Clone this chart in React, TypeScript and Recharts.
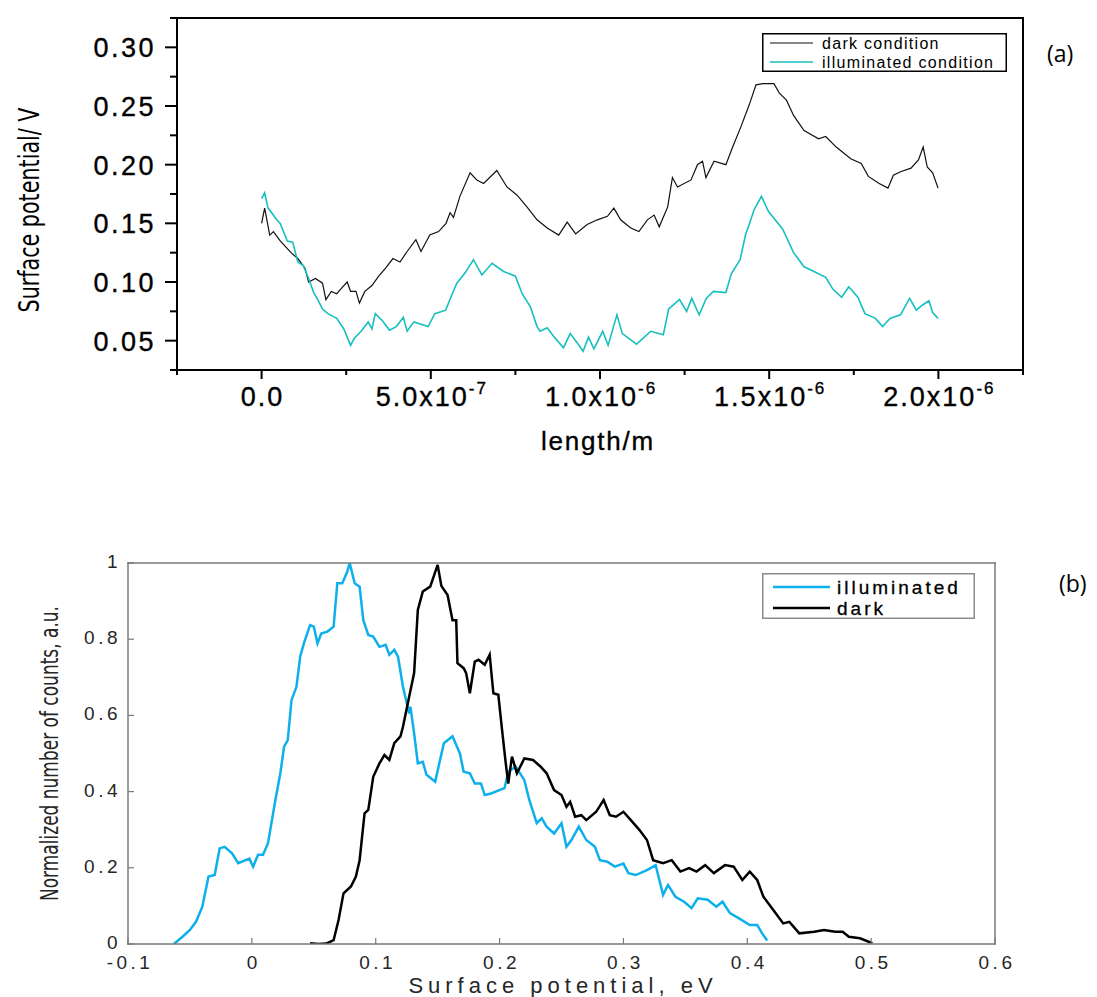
import React from "react";
import { Legend, Line, LineChart, XAxis, YAxis } from "recharts";

// ---- (a) surface potential line profile, x in µm ----
const darkAX = [
  0, 0.009, 0.024, 0.035, 0.055, 0.087, 0.107, 0.128, 0.139, 0.159, 0.18, 0.19, 0.206, 0.222, 0.237,
  0.253, 0.263, 0.279, 0.289, 0.305, 0.326, 0.346, 0.367, 0.388, 0.409, 0.43, 0.456, 0.471, 0.497,
  0.523, 0.545, 0.557, 0.567, 0.586, 0.616, 0.636, 0.656, 0.695, 0.725, 0.755, 0.784, 0.814, 0.844,
  0.878, 0.903, 0.928, 0.962, 0.992, 1.022, 1.041, 1.061, 1.091, 1.115, 1.14, 1.16, 1.175, 1.2,
  1.214, 1.229, 1.269, 1.288, 1.303, 1.313, 1.337, 1.372, 1.392, 1.416, 1.441, 1.461, 1.482, 1.514,
  1.53, 1.551, 1.572, 1.603, 1.646, 1.667, 1.698, 1.741, 1.772, 1.793, 1.825, 1.851, 1.867, 1.888,
  1.919, 1.941, 1.955, 1.967, 1.983, 1.999,
];
const darkAY = [
  0.15, 0.163, 0.14, 0.143, 0.135, 0.125, 0.12, 0.112, 0.1, 0.103, 0.099, 0.085, 0.092, 0.09, 0.095,
  0.1, 0.092, 0.092, 0.082, 0.092, 0.097, 0.105, 0.112, 0.12, 0.117, 0.126, 0.136, 0.126, 0.14,
  0.143, 0.15, 0.159, 0.155, 0.173, 0.193, 0.187, 0.184, 0.195, 0.181, 0.174, 0.164, 0.153, 0.146,
  0.14, 0.151, 0.141, 0.149, 0.153, 0.156, 0.163, 0.153, 0.146, 0.143, 0.153, 0.157, 0.147, 0.164,
  0.189, 0.181, 0.187, 0.2, 0.203, 0.189, 0.203, 0.2, 0.215, 0.232, 0.251, 0.268, 0.269, 0.269,
  0.261, 0.255, 0.242, 0.229, 0.222, 0.224, 0.215, 0.205, 0.201, 0.19, 0.184, 0.18, 0.191, 0.194,
  0.197, 0.204, 0.215, 0.198, 0.193, 0.18,
];
const illumAX = [
  0, 0.009, 0.019, 0.045, 0.055, 0.076, 0.092, 0.107, 0.123, 0.139, 0.154, 0.164, 0.18, 0.196, 0.222,
  0.243, 0.263, 0.274, 0.294, 0.315, 0.326, 0.336, 0.357, 0.378, 0.398, 0.419, 0.43, 0.45, 0.492,
  0.512, 0.544, 0.565, 0.577, 0.602, 0.626, 0.651, 0.681, 0.715, 0.75, 0.77, 0.794, 0.814, 0.823,
  0.844, 0.865, 0.892, 0.912, 0.933, 0.95, 0.966, 0.982, 1.008, 1.024, 1.05, 1.066, 1.108, 1.15,
  1.187, 1.203, 1.235, 1.256, 1.271, 1.293, 1.314, 1.335, 1.372, 1.388, 1.414, 1.43, 1.456, 1.477,
  1.498, 1.54, 1.572, 1.603, 1.625, 1.667, 1.688, 1.714, 1.735, 1.762, 1.783, 1.814, 1.835, 1.857,
  1.888, 1.915, 1.935, 1.951, 1.972, 1.983, 1.999,
];
const illumAY = [
  0.171, 0.176, 0.163, 0.153, 0.15, 0.135, 0.134, 0.117, 0.114, 0.103, 0.091, 0.086, 0.077, 0.073,
  0.069, 0.06, 0.046, 0.052, 0.058, 0.066, 0.06, 0.073, 0.067, 0.059, 0.062, 0.07, 0.058, 0.066,
  0.062, 0.073, 0.076, 0.091, 0.099, 0.108, 0.119, 0.106, 0.116, 0.109, 0.105, 0.09, 0.079, 0.062,
  0.058, 0.061, 0.053, 0.044, 0.056, 0.048, 0.041, 0.053, 0.043, 0.058, 0.046, 0.072, 0.056, 0.047,
  0.058, 0.055, 0.077, 0.085, 0.075, 0.086, 0.072, 0.086, 0.092, 0.091, 0.107, 0.119, 0.14, 0.162,
  0.173, 0.16, 0.145, 0.125, 0.113, 0.11, 0.104, 0.094, 0.087, 0.096, 0.087, 0.073, 0.069, 0.062,
  0.069, 0.072, 0.086, 0.076, 0.08, 0.084, 0.074, 0.069,
];

// ---- (b) normalized histograms of surface potential ----
const illumBX = [
  -0.063, -0.056, -0.05, -0.045, -0.04, -0.035, -0.03, -0.026, -0.022, -0.016, -0.011, -0.005,
  -0.002, 0.001, 0.005, 0.009, 0.013, 0.019, 0.023, 0.026, 0.029, 0.032, 0.036, 0.039, 0.042, 0.047,
  0.05, 0.053, 0.056, 0.061, 0.066, 0.069, 0.073, 0.077, 0.079, 0.083, 0.087, 0.09, 0.094, 0.098,
  0.103, 0.108, 0.111, 0.115, 0.118, 0.122, 0.127, 0.128, 0.131, 0.134, 0.138, 0.141, 0.148, 0.155,
  0.162, 0.168, 0.171, 0.176, 0.18, 0.185, 0.188, 0.193, 0.204, 0.207, 0.213, 0.22, 0.224, 0.23,
  0.234, 0.238, 0.244, 0.25, 0.254, 0.258, 0.264, 0.27, 0.277, 0.281, 0.287, 0.293, 0.3, 0.304, 0.31,
  0.319, 0.326, 0.329, 0.332, 0.336, 0.342, 0.349, 0.355, 0.36, 0.368, 0.375, 0.38, 0.386, 0.393,
  0.402, 0.408, 0.412, 0.416,
];
const illumBY = [
  0, 0.019, 0.037, 0.059, 0.098, 0.177, 0.181, 0.251, 0.255, 0.238, 0.212, 0.22, 0.224, 0.203, 0.234,
  0.234, 0.264, 0.378, 0.448, 0.518, 0.535, 0.64, 0.675, 0.754, 0.789, 0.837, 0.833, 0.789, 0.815,
  0.82, 0.833, 0.947, 0.947, 0.977, 1.0, 0.947, 0.938, 0.85, 0.811, 0.807, 0.78, 0.785, 0.759, 0.772,
  0.754, 0.675, 0.605, 0.623, 0.553, 0.474, 0.478, 0.444, 0.426, 0.527, 0.545, 0.5, 0.452, 0.448,
  0.421, 0.421, 0.391, 0.395, 0.409, 0.452, 0.466, 0.43, 0.378, 0.317, 0.33, 0.308, 0.29, 0.317,
  0.255, 0.273, 0.308, 0.273, 0.255, 0.22, 0.216, 0.203, 0.211, 0.186, 0.181, 0.194, 0.207, 0.168,
  0.129, 0.155, 0.124, 0.111, 0.094, 0.12, 0.116, 0.098, 0.111, 0.081, 0.068, 0.05, 0.05, 0.028,
  0.009,
];
const darkBX = [
  0.047, 0.054, 0.06, 0.066, 0.07, 0.074, 0.08, 0.084, 0.087, 0.091, 0.094, 0.098, 0.103, 0.107,
  0.111, 0.115, 0.12, 0.122, 0.127, 0.131, 0.134, 0.138, 0.144, 0.15, 0.153, 0.158, 0.162, 0.165,
  0.166, 0.171, 0.173, 0.176, 0.18, 0.183, 0.188, 0.192, 0.195, 0.199, 0.202, 0.205, 0.207, 0.21,
  0.214, 0.22, 0.227, 0.233, 0.238, 0.244, 0.25, 0.254, 0.257, 0.261, 0.266, 0.27, 0.278, 0.284,
  0.289, 0.294, 0.3, 0.306, 0.313, 0.319, 0.324, 0.332, 0.339, 0.346, 0.353, 0.359, 0.366, 0.373,
  0.382, 0.389, 0.396, 0.402, 0.408, 0.413, 0.421, 0.429, 0.434, 0.442, 0.454, 0.462, 0.471, 0.477,
  0.482, 0.491, 0.501,
];
const darkBY = [
  0.002, 0, 0.001, 0.01, 0.063, 0.133, 0.151, 0.177, 0.22, 0.343, 0.352, 0.439, 0.474, 0.496, 0.483,
  0.527, 0.545, 0.57, 0.649, 0.711, 0.877, 0.925, 0.938, 0.995, 0.94, 0.916, 0.85, 0.85, 0.737,
  0.724, 0.711, 0.658, 0.741, 0.746, 0.733, 0.759, 0.658, 0.654, 0.562, 0.474, 0.421, 0.492, 0.448,
  0.487, 0.483, 0.466, 0.448, 0.404, 0.391, 0.36, 0.373, 0.334, 0.338, 0.325, 0.347, 0.378, 0.338,
  0.334, 0.347, 0.325, 0.299, 0.273, 0.22, 0.212, 0.22, 0.19, 0.199, 0.19, 0.207, 0.186, 0.207,
  0.203, 0.168, 0.19, 0.168, 0.124, 0.089, 0.054, 0.058, 0.028, 0.032, 0.037, 0.032, 0.032, 0.019,
  0.015, 0.002,
];

// ---- ticks and labels ----
const xTicksA = [-0.25, 0, 0.25, 0.5, 0.75, 1, 1.25, 1.5, 1.75, 2, 2.25];
const xMajorA = [0, 0.5, 1, 1.5, 2];
const xLabelA = ["0.0", "5.0x10", "1.0x10", "1.5x10", "2.0x10"];
const xExpA = ["", "-7", "-6", "-6", "-6"];
const yTicksA = [0.025, 0.05, 0.075, 0.1, 0.125, 0.15, 0.175, 0.2, 0.225, 0.25, 0.275, 0.3, 0.325];
const yMajorA = [0.05, 0.1, 0.15, 0.2, 0.25, 0.3];
const yLabelA = ["0.05", "0.10", "0.15", "0.20", "0.25", "0.30"];
const legendOrderA = ["dark condition", "illuminated condition"];

const xTicksB = [-0.1, 0, 0.1, 0.2, 0.3, 0.4, 0.5, 0.6];
const xLabelB = ["-0.1", "0", "0.1", "0.2", "0.3", "0.4", "0.5", "0.6"];
const yTicksB = [0, 0.2, 0.4, 0.6, 0.8, 1];
const yLabelB = ["0", "0.2", "0.4", "0.6", "0.8", "1"];
const legendOrderB = ["illuminated", "dark"];

const zip = (xs: number[], ys: number[]) => xs.map((x, i) => ({ x, y: ys[i] }));
const at = (list: number[], v: number) => list.findIndex((m) => Math.abs(m - v) < 1e-9);
const ordered = (items: any[], order: string[]) =>
  [...items].sort((a, b) => order.indexOf(a.value) - order.indexOf(b.value));

const SANS = "'Liberation Sans', Arial, Helvetica, sans-serif";
const NARROW = "'Liberation Sans Narrow', 'Arial Narrow', 'DejaVu Sans Condensed', sans-serif";
const CYAN = "#17bfbf";
const BLUE = "#0db0ec";
const FRAME_B = "#7a7a7a";

// ---------- panel (a) ticks ----------
function BottomTickA(props: any) {
  const { x, y, payload } = props;
  const i = at(xMajorA, payload.value);
  return (
    <g>
      <line x1={x} x2={x} y1={y} y2={y + (i >= 0 ? 9 : 5)} stroke="#000" strokeWidth={2} />
      {i >= 0 && (
        <text
          x={x + 1}
          y={y + 36}
          textAnchor="middle"
          fontFamily={SANS}
          fontSize={27}
          letterSpacing={2}
          fill="#000"
          stroke="#000"
          strokeWidth={0.35}
        >
          {xLabelA[i]}
          {xExpA[i] ? (
            <tspan dy={-12} fontSize={17}>
              {xExpA[i]}
            </tspan>
          ) : null}
        </text>
      )}
    </g>
  );
}

function TopTickA(props: any) {
  const { x, y, payload } = props;
  const major = at(xMajorA, payload.value) >= 0;
  return <line x1={x} x2={x} y1={y} y2={y + (major ? 8 : 4)} stroke="#000" strokeWidth={2} />;
}

function LeftTickA(props: any) {
  const { x, y, payload } = props;
  const i = at(yMajorA, payload.value);
  return (
    <g>
      <line x1={x - (i >= 0 ? 12 : 7)} x2={x} y1={y} y2={y} stroke="#000" strokeWidth={2} />
      {i >= 0 && (
        <text
          x={x - 21}
          y={y + 10}
          textAnchor="end"
          fontFamily={SANS}
          fontSize={27}
          letterSpacing={2.5}
          fill="#000"
          stroke="#000"
          strokeWidth={0.35}
        >
          {yLabelA[i]}
        </text>
      )}
    </g>
  );
}

function RightTickA(props: any) {
  const { x, y } = props;
  return <line x1={x - 12} x2={x} y1={y} y2={y} stroke="#000" strokeWidth={2} />;
}

// ---------- panel (b) ticks ----------
function BottomTickB(props: any) {
  const { x, y, payload } = props;
  const i = at(xTicksB, payload.value);
  return (
    <g>
      <line x1={x} x2={x} y1={y} y2={y - 6} stroke={FRAME_B} strokeWidth={1.2} />
      <text x={x + 2} y={y + 25} textAnchor="middle" fontFamily={SANS} fontSize={19} letterSpacing={3.5} fill="#262626">
        {xLabelB[i]}
      </text>
    </g>
  );
}

function TopTickB(props: any) {
  const { x, y } = props;
  return <line x1={x} x2={x} y1={y} y2={y + 6} stroke={FRAME_B} strokeWidth={1.2} />;
}

function LeftTickB(props: any) {
  const { x, y, payload } = props;
  const i = at(yTicksB, payload.value);
  return (
    <g>
      <line x1={x} x2={x + 6} y1={y} y2={y} stroke={FRAME_B} strokeWidth={1.2} />
      <text x={x - 7} y={y + 5} textAnchor="end" fontFamily={SANS} fontSize={19} letterSpacing={3.5} fill="#262626">
        {yLabelB[i]}
      </text>
    </g>
  );
}

function RightTickB(props: any) {
  const { x, y } = props;
  return <line x1={x - 6} x2={x} y1={y} y2={y} stroke={FRAME_B} strokeWidth={1.2} />;
}

// ---------- legends ----------
const widthsA: Record<string, number> = { "dark condition": 1.2, "illuminated condition": 1.6 };

function LegendA(props: any) {
  const items = ordered(props.payload || [], legendOrderA);
  return (
    <svg width={245} height={39} style={{ display: "block" }}>
      <rect x={0.75} y={0.75} width={243.5} height={37.5} fill="#fff" stroke="#000" strokeWidth={1.5} />
      {items.map((it: any, i: number) => (
        <g key={it.value}>
          <line x1={8} x2={51} y1={10 + i * 19} y2={10 + i * 19} stroke={it.color} strokeWidth={widthsA[it.value] || 1.2} />
          <text x={60} y={15.5 + i * 19} fontFamily={SANS} fontSize={16} letterSpacing={1.3} fill="#000">
            {it.value}
          </text>
        </g>
      ))}
    </svg>
  );
}

function LegendB(props: any) {
  const items = ordered(props.payload || [], legendOrderB);
  return (
    <svg width={213} height={46} style={{ display: "block" }}>
      <rect x={0.75} y={0.75} width={211.5} height={44.5} fill="#fff" stroke="#8a8a8a" strokeWidth={1.5} />
      {items.map((it: any, i: number) => (
        <g key={it.value}>
          <line x1={11} x2={68} y1={14 + i * 21} y2={14 + i * 21} stroke={it.color} strokeWidth={2.5} />
          <text
            x={75}
            y={20.5 + i * 21}
            fontFamily={SANS}
            fontSize={19}
            letterSpacing={3}
            fill="#000"
            stroke="#000"
            strokeWidth={0.3}
          >
            {it.value}
          </text>
        </g>
      ))}
    </svg>
  );
}

// ---------- axis titles ----------
const TitleYA = () => (
  <text
    transform="translate(29, 210) rotate(-90)"
    textAnchor="middle"
    dominantBaseline="central"
    fontFamily={NARROW}
    fontSize={28}
    textLength={205}
    lengthAdjust="spacingAndGlyphs"
    fill="#000"
  >
    Surface potential/ V
  </text>
);

const TitleXA = () => (
  <text
    x={598}
    y={450}
    textAnchor="middle"
    fontFamily={SANS}
    fontSize={26}
    letterSpacing={1.8}
    fill="#000"
    stroke="#000"
    strokeWidth={0.35}
  >
    length/m
  </text>
);

const TitleYB = () => (
  <text
    transform="translate(50, 273.5) rotate(-90)"
    textAnchor="middle"
    dominantBaseline="central"
    fontFamily={NARROW}
    fontSize={24}
    textLength={295}
    lengthAdjust="spacingAndGlyphs"
    fill="#262626"
  >
    Normalized number of counts, a.u.
  </text>
);

const TitleXB = () => (
  <text x={563} y={513} textAnchor="middle" fontFamily={SANS} fontSize={22} letterSpacing={5} fill="#262626">
    Surface potential, eV
  </text>
);

const frameA = { stroke: "#000", strokeWidth: 2, strokeLinecap: "square" as const };
const frameB = { stroke: FRAME_B, strokeWidth: 1.5, strokeLinecap: "square" as const };

export default function App() {
  const darkA = zip(darkAX, darkAY);
  const illumA = zip(illumAX, illumAY);
  const illumB = zip(illumBX, illumBY);
  const darkB = zip(darkBX, darkBY);

  return (
    <div style={{ position: "absolute", left: 0, top: 0, width: 1097, height: 997, background: "#fff" }}>
      <div style={{ position: "absolute", left: 0, top: 0 }}>
        <LineChart width={1097} height={480} margin={{ top: 8, right: 64, bottom: 0, left: 0 }}>
          <XAxis
            dataKey="x"
            type="number"
            domain={[-0.25, 2.25]}
            ticks={xTicksA}
            interval={0}
            allowDataOverflow
            height={110}
            tickSize={0}
            tickMargin={0}
            tickLine={false}
            axisLine={frameA}
            tick={BottomTickA}
            label={<TitleXA />}
          />
          <XAxis
            xAxisId="top"
            orientation="top"
            type="number"
            domain={[-0.25, 2.25]}
            ticks={xTicksA}
            interval={0}
            height={10}
            tickSize={0}
            tickMargin={0}
            tickLine={false}
            axisLine={frameA}
            tick={TopTickA}
          />
          <YAxis
            type="number"
            domain={[0.025, 0.325]}
            ticks={yTicksA}
            interval={0}
            allowDataOverflow
            width={177}
            tickSize={0}
            tickMargin={0}
            tickLine={false}
            axisLine={frameA}
            tick={LeftTickA}
            label={<TitleYA />}
          />
          <YAxis
            yAxisId="right"
            orientation="right"
            type="number"
            domain={[0.025, 0.325]}
            ticks={yTicksA}
            interval={0}
            width={10}
            tickSize={0}
            tickMargin={0}
            tickLine={false}
            axisLine={frameA}
            tick={RightTickA}
          />
          <Line
            data={darkA}
            dataKey="y"
            name="dark condition"
            type="linear"
            stroke="#111"
            strokeWidth={1.2}
            dot={false}
            isAnimationActive={false}
          />
          <Line
            data={illumA}
            dataKey="y"
            name="illuminated condition"
            type="linear"
            stroke={CYAN}
            strokeWidth={1.6}
            dot={false}
            isAnimationActive={false}
          />
          <Legend
            layout="vertical"
            align="center"
            verticalAlign="middle"
            width={245}
            height={39}
            wrapperStyle={{ left: 762, top: 33, width: 245, height: 39 }}
            content={LegendA}
          />
        </LineChart>
      </div>

      <div style={{ position: "absolute", left: 0, top: 480 }}>
        <LineChart width={1097} height={517} margin={{ top: 73, right: 92, bottom: 0, left: 0 }}>
          <XAxis
            dataKey="x"
            type="number"
            domain={[-0.1, 0.6]}
            ticks={xTicksB}
            interval={0}
            allowDataOverflow
            height={53}
            tickSize={0}
            tickMargin={0}
            tickLine={false}
            axisLine={frameB}
            tick={BottomTickB}
            label={<TitleXB />}
          />
          <XAxis
            xAxisId="top"
            orientation="top"
            type="number"
            domain={[-0.1, 0.6]}
            ticks={xTicksB}
            interval={0}
            height={10}
            tickSize={0}
            tickMargin={0}
            tickLine={false}
            axisLine={frameB}
            tick={TopTickB}
          />
          <YAxis
            type="number"
            domain={[0, 1]}
            ticks={yTicksB}
            interval={0}
            allowDataOverflow
            width={128}
            tickSize={0}
            tickMargin={0}
            tickLine={false}
            axisLine={frameB}
            tick={LeftTickB}
            label={<TitleYB />}
          />
          <YAxis
            yAxisId="right"
            orientation="right"
            type="number"
            domain={[0, 1]}
            ticks={yTicksB}
            interval={0}
            width={10}
            tickSize={0}
            tickMargin={0}
            tickLine={false}
            axisLine={frameB}
            tick={RightTickB}
          />
          <Line
            data={illumB}
            dataKey="y"
            name="illuminated"
            type="linear"
            stroke={BLUE}
            strokeWidth={2.5}
            dot={false}
            isAnimationActive={false}
          />
          <Line
            data={darkB}
            dataKey="y"
            name="dark"
            type="linear"
            stroke="#000"
            strokeWidth={2.5}
            dot={false}
            isAnimationActive={false}
          />
          <Legend
            layout="vertical"
            align="center"
            verticalAlign="middle"
            width={213}
            height={46}
            wrapperStyle={{ left: 762, top: 93, width: 213, height: 46 }}
            content={LegendB}
          />
        </LineChart>
      </div>

      <div
        style={{
          position: "absolute",
          left: 1047,
          top: 39,
          fontFamily: "'Open Sans', 'Noto Sans', sans-serif",
          fontSize: 23,
          lineHeight: "28px",
          color: "#000",
        }}
      >
        (a)
      </div>
      <div
        style={{
          position: "absolute",
          left: 1059,
          top: 569,
          fontFamily: "'Open Sans', 'Noto Sans', sans-serif",
          fontSize: 23,
          lineHeight: "28px",
          color: "#000",
        }}
      >
        (b)
      </div>
    </div>
  );
}
